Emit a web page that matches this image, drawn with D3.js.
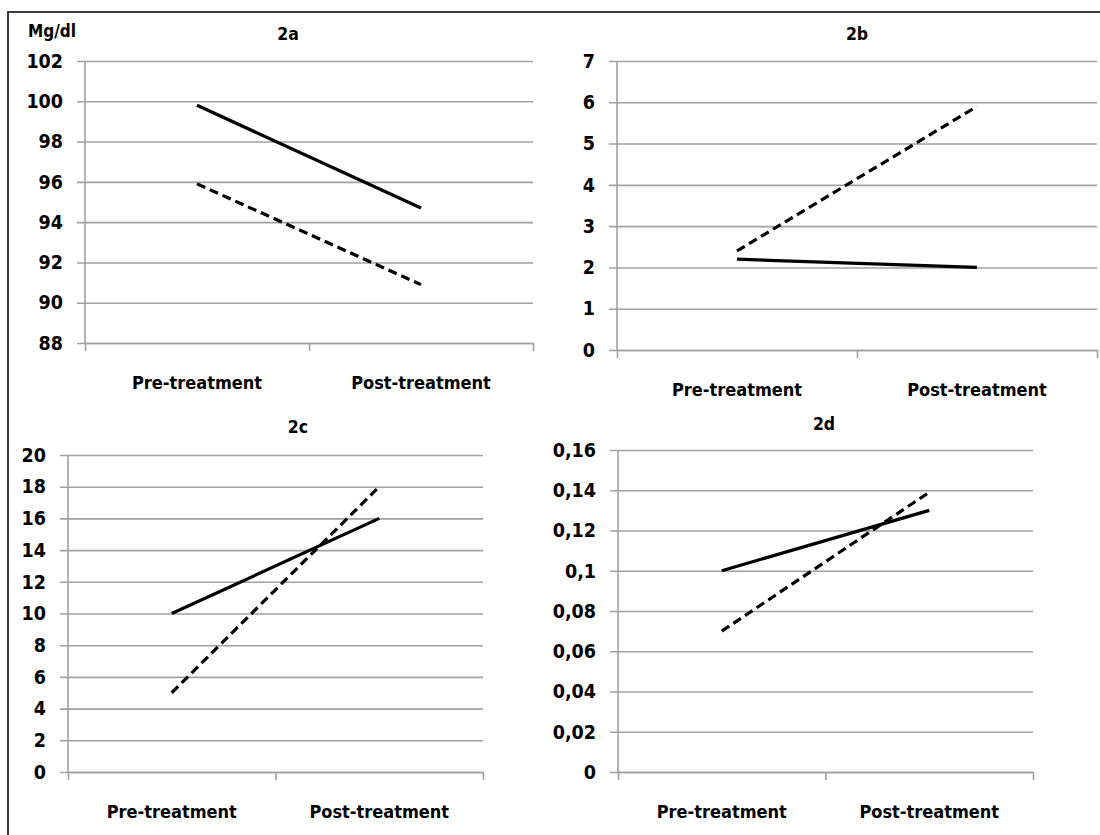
<!DOCTYPE html>
<meta charset="utf-8">
<style>
body { margin: 0; background: #fff; }
text { font-family: "DejaVu Sans", sans-serif; font-stretch: condensed; font-weight: bold; fill: #000; }
.grid line { stroke: #a0a0a0; stroke-width: 1.6px; }
.grid .domain { display: none; }
.xaxis line, .xaxis .domain { stroke: #a0a0a0; stroke-width: 1.6px; }
.yline { stroke: #a0a0a0; stroke-width: 1.6px; }
.series { fill: none; stroke: #000; stroke-width: 3.2px; stroke-linecap: butt; }
.dashed { stroke-dasharray: 9,5; }
</style>
<body>
<script src="https://cdnjs.cloudflare.com/ajax/libs/d3/7.8.5/d3.min.js"></script>
<script>

// categories on the x axis (shared by all four panels)
let categories = ["Pre-treatment", "Post-treatment"];

// panel 2a
let solid2a = [99.8, 94.7];
let dashed2a = [95.9, 90.9];
let ticks2a = [88, 90, 92, 94, 96, 98, 100, 102];

// panel 2b
let solid2b = [2.2, 2.0];
let dashed2b = [2.4, 5.9];
let ticks2b = [0, 1, 2, 3, 4, 5, 6, 7];

// panel 2c
let solid2c = [10, 16];
let dashed2c = [5, 18];
let ticks2c = [0, 2, 4, 6, 8, 10, 12, 14, 16, 18, 20];

// panel 2d
let solid2d = [0.10, 0.13];
let dashed2d = [0.07, 0.139];
let ticks2d = [0, 0.02, 0.04, 0.06, 0.08, 0.1, 0.12, 0.14, 0.16];

let unitLabel = "Mg/dl";

let svg = d3.select("body").append("svg")
    .attr("width", 1100)
    .attr("height", 835);

// outer frame of the figure
svg.append("rect")
    .attr("x", 8).attr("y", 12)
    .attr("width", 1120).attr("height", 860)
    .attr("fill", "none")
    .attr("stroke", "#3c3c3c")
    .attr("stroke-width", 2);

let commaFmt = function (d) { return String(d).replace(".", ","); };

// layout of each panel (plot box in page pixels)
let panels = [
    {title: "2a", solid: solid2a, dashed: dashed2a, ticks: ticks2a,
     x0: 85, x1: 533, yTop: 61, yBot: 343, titleX: 288, titleY: 40, fmt: String},
    {title: "2b", solid: solid2b, dashed: dashed2b, ticks: ticks2b,
     x0: 617, x1: 1097, yTop: 61, yBot: 350, titleX: 857, titleY: 40, fmt: String},
    {title: "2c", solid: solid2c, dashed: dashed2c, ticks: ticks2c,
     x0: 68, x1: 483, yTop: 455, yBot: 772, titleX: 298, titleY: 433, fmt: String},
    {title: "2d", solid: solid2d, dashed: dashed2d, ticks: ticks2d,
     x0: 618, x1: 1033, yTop: 450, yBot: 772, titleX: 824, titleY: 430, fmt: commaFmt}
];

panels.forEach(function (p) {
    let g = svg.append("g");
    let w = p.x1 - p.x0;

    let y = d3.scaleLinear()
        .domain(d3.extent(p.ticks))
        .range([p.yBot, p.yTop]);

    let x = d3.scaleBand()
        .domain(categories)
        .range([p.x0, p.x1]);

    // gridlines + y tick labels (ticks stick out 8px left of the axis)
    g.append("g")
        .attr("class", "grid")
        .attr("transform", "translate(" + p.x1 + ",0)")
        .call(d3.axisLeft(y).tickValues(p.ticks).tickSize(w + 8).tickPadding(14).tickFormat(p.fmt))
        .selectAll("text")
        .style("font-size", "19.5px");

    // vertical axis line
    g.append("line")
        .attr("class", "yline")
        .attr("x1", p.x0).attr("x2", p.x0)
        .attr("y1", p.yTop).attr("y2", p.yBot);

    // x axis with boundary ticks
    let xEdge = d3.scaleLinear().domain([0, categories.length]).range([p.x0, p.x1]);
    g.append("g")
        .attr("class", "xaxis")
        .attr("transform", "translate(0," + p.yBot + ")")
        .call(d3.axisBottom(xEdge).tickValues(d3.range(categories.length + 1)).tickSize(8).tickSizeOuter(0).tickFormat(""));

    // category labels
    g.append("g")
        .attr("transform", "translate(0," + p.yBot + ")")
        .call(d3.axisBottom(x).tickSize(0).tickPadding(33))
        .call(function (a) { a.select(".domain").remove(); })
        .selectAll("text")
        .style("font-size", "18px");

    let line = d3.line()
        .x(function (d, i) { return x(categories[i]) + x.bandwidth() / 2; })
        .y(function (d) { return y(d); });

    g.append("path")
        .datum(p.solid)
        .attr("class", "series")
        .attr("d", line);

    g.append("path")
        .datum(p.dashed)
        .attr("class", "series dashed")
        .attr("d", line);

    g.append("text")
        .attr("x", p.titleX)
        .attr("y", p.titleY)
        .attr("text-anchor", "middle")
        .style("font-size", "17.5px")
        .text(p.title);
});

svg.append("text")
    .attr("x", 28)
    .attr("y", 37)
    .style("font-size", "17px")
    .text(unitLabel);

</script>
</body>
